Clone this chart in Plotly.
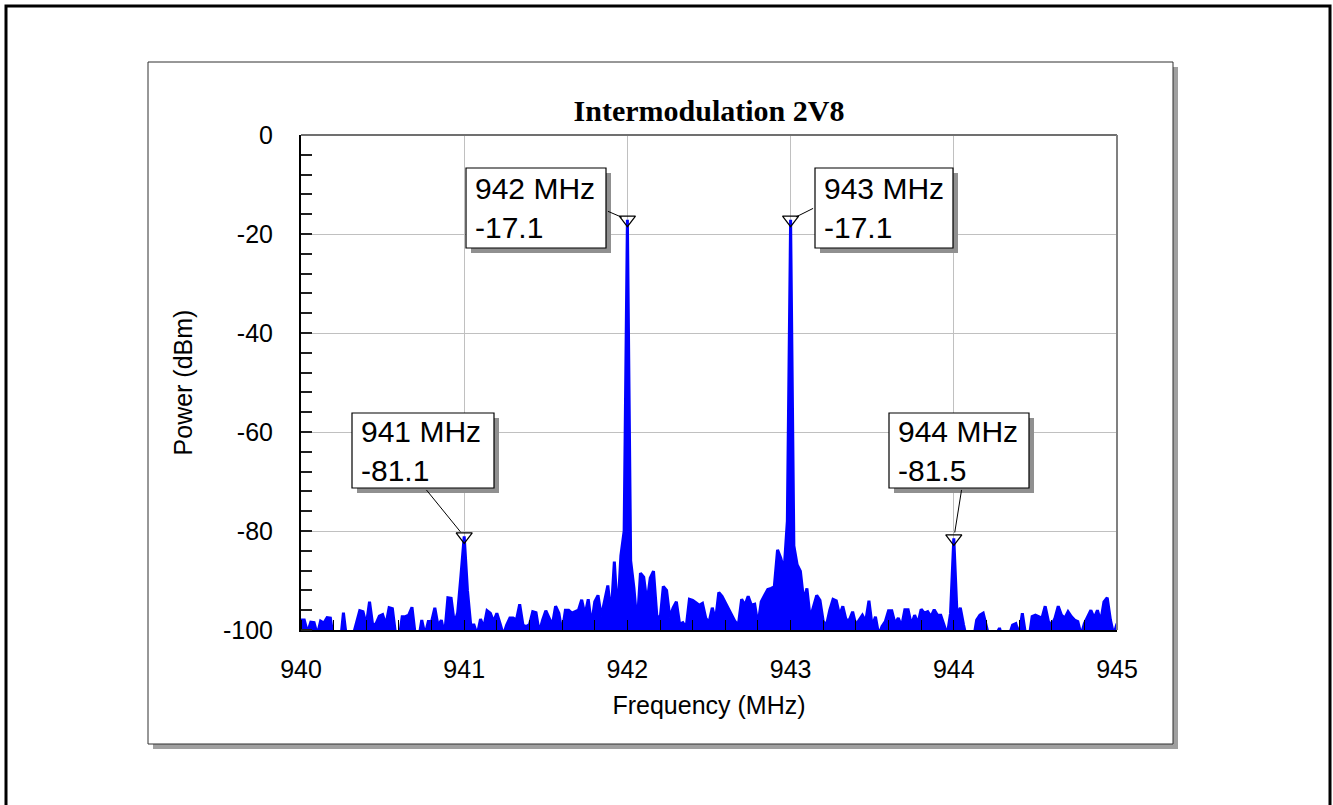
import plotly.graph_objects as go

# ---------------- data ----------------
freq_start = 940.0
freq_step = 0.02
power_dbm = [
    -98.0, -98.0, -100.5, -98.4, -98.5, -101, -98.2, -98.6, -97.5, -97.6,
    -102, -101, -103, -96.5, -102, -103, -101, -98.3, -96.1, -96.3,
    -99, -94.3, -99.2, -98.7, -97.2, -96.9, -99, -95.5, -95.7, -101,
    -102, -97.3, -97.3, -97.0, -95.4, -101, -102, -98.0, -101, -98.3,
    -98.3, -95.5, -99.2, -98.0, -101, -93.5, -93.6, -98.7, -96.5, -89,
    -81.1, -92, -99, -99.0, -101, -97.8, -99.5, -96.1, -96.6, -98.3,
    -96.6, -98.7, -101, -99, -97.6, -97.6, -98.0, -94.8, -99.0, -99.3,
    -98.9, -96.3, -96.5, -100.5, -98.0, -96.1, -97.5, -99, -95.2, -96.6,
    -100.5, -96.0, -96.0, -96.6, -96.3, -96.0, -93.9, -97.0, -93.8, -99.0,
    -94.3, -93.0, -97.3, -94.0, -91.0, -97.0, -86.2, -97.0, -85.0, -80,
    -17.1, -86, -91.5, -99, -88.5, -89.3, -94.5, -89.5, -88.1, -97,
    -98, -91.2, -92.0, -97.5, -95.5, -94.3, -98.8, -98.5, -99.5, -93.8,
    -94.0, -94.5, -95.0, -94.6, -97.6, -98.5, -95.5, -98.0, -92.4, -93.2,
    -94.5, -95.5, -97.0, -98.3, -99.0, -93.8, -95.0, -93.2, -95.0, -94.8,
    -99.0, -94.3, -93.0, -91.8, -91.6, -91.3, -83.8, -85.5, -88, -78,
    -17.1, -83, -86.8, -88.1, -94.0, -91.6, -97.6, -95.5, -93.0, -94.0,
    -98.3, -99.0, -96.0, -93.8, -94.1, -97.0, -95.2, -98.0, -98.0, -96.3,
    -99.0, -98.0, -97.0, -98.3, -94.1, -99.3, -97.3, -101, -99.3, -98.3,
    -96.1, -96.1, -98.7, -97.6, -99.3, -95.9, -95.9, -99, -97.0, -98.7,
    -95.8, -96.6, -96.3, -97.3, -95.9, -97.0, -97.0, -99.0, -101, -96.6,
    -81.5, -97, -95.5, -99.0, -102, -103, -102, -98.0, -97.0, -96.6,
    -99.0, -102, -103, -101, -99.6, -102, -103, -101, -99.0, -98.7,
    -101, -96.6, -101, -102, -97.3, -97.0, -97.3, -97.6, -95.2, -98.3,
    -99.0, -97.6, -95.2, -97.0, -97.6, -96.3, -97.3, -98.0, -98.3, -101,
    -98.7, -97.3, -96.0, -97.6, -96.0, -98.3, -94.3, -93.5, -98.0, -101,
    -98.7,
]
freq_mhz = [round(freq_start + freq_step * i, 2) for i in range(len(power_dbm))]

marker_freq = [941, 942, 943, 944]
marker_power = [-81.1, -17.1, -17.1, -81.5]

x_range = [940, 945]
y_range = [-100, 0]
x_ticks = [940, 941, 942, 943, 944, 945]
y_ticks = [0, -20, -40, -60, -80, -100]
y_ticktext = ["0", "-20", "-40", "-60", "-80", "-100"]

title_text = "Intermodulation 2V8"
x_title = "Frequency (MHz)"
y_title = "Power (dBm)"

# ---------------- layout geometry (pixels) ----------------
W, H = 1333, 805
PL, PR, PT, PB = 301, 1117, 135, 630


def px(x):
    return (x - PL) / (PR - PL)


def py(y):
    return (PB - y) / (PB - PT)


# label boxes: (left, top, right, bottom) in pixels, one per marker
label_boxes = [(352, 413, 494, 488), (466, 168, 606, 248),
               (815, 168, 953, 248), (889, 413, 1029, 488)]
# connector tail offsets (pixels) from the marked point
arrow_tails = [(-39, -48), (-21, -9), (24, -12), (8, -50)]

BLUE = "#0000ff"

fig = go.Figure()
# floor of the display (axis bottom) used as the fill reference
fig.add_trace(go.Scatter(
    x=x_range, y=[y_range[0], y_range[0]], mode="lines",
    line=dict(width=0, color=BLUE), hoverinfo="skip", showlegend=False,
))
fig.add_trace(go.Scatter(
    x=freq_mhz, y=power_dbm, mode="lines", fill="tonexty", fillcolor=BLUE,
    line=dict(color=BLUE, width=3), hoverinfo="skip", showlegend=False,
))
fig.add_trace(go.Scatter(
    x=marker_freq, y=marker_power, mode="markers",
    marker=dict(symbol="triangle-down-open", size=14, color="black",
                line=dict(width=1.2, color="black")),
    showlegend=False,
))

shapes = []
# outer frame
shapes.append(dict(type="rect", xref="paper", yref="paper",
                   x0=px(6), x1=px(1330), y0=py(6), y1=py(830),
                   line=dict(color="black", width=3), fillcolor="rgba(0,0,0,0)",
                   layer="below"))
# panel shadow + panel
shapes.append(dict(type="rect", xref="paper", yref="paper",
                   x0=px(153), x1=px(1178), y0=py(67), y1=py(749),
                   line=dict(width=0), fillcolor="#a0a0a0", layer="below"))
shapes.append(dict(type="rect", xref="paper", yref="paper",
                   x0=px(148), x1=px(1173), y0=py(62), y1=py(744),
                   line=dict(color="#303030", width=1), fillcolor="white",
                   layer="below"))
# top & right plot borders (gray)
shapes.append(dict(type="line", xref="paper", yref="paper", x0=0, x1=1, y0=1, y1=1,
                   line=dict(color="#707070", width=2), layer="above"))
shapes.append(dict(type="line", xref="paper", yref="paper", x0=1, x1=1, y0=0, y1=1,
                   line=dict(color="#808080", width=2), layer="above"))

annotations = []
for (l, t, r, b), f, p, (ax, ay) in zip(label_boxes, marker_freq, marker_power, arrow_tails):
    shapes.append(dict(type="rect", xref="paper", yref="paper",
                       x0=px(l + 5), x1=px(r + 5), y0=py(t + 5), y1=py(b + 5),
                       line=dict(width=0), fillcolor="#909090", layer="above"))
    shapes.append(dict(type="rect", xref="paper", yref="paper",
                       x0=px(l), x1=px(r), y0=py(t), y1=py(b),
                       line=dict(color="black", width=1.2), fillcolor="white",
                       layer="above"))
    annotations.append(dict(
        xref="paper", yref="paper", x=px(l + 7), y=py((t + b) / 2),
        xanchor="left", yanchor="middle", align="left", showarrow=False,
        text=f"{f} MHz<br>{p}",
        font=dict(family="Liberation Sans, Arial", size=30, color="black"),
    ))
    annotations.append(dict(
        x=f, y=p, xref="x", yref="y", ax=ax, ay=ay, text="",
        showarrow=True, arrowhead=0, arrowwidth=1, arrowcolor="black",
        standoff=6,
    ))

axis_font = dict(family="Liberation Sans, Arial", size=25, color="black")

fig.update_layout(
    width=W, height=H,
    margin=dict(l=PL, r=W - PR, t=PT, b=H - PB, pad=0),
    paper_bgcolor="white", plot_bgcolor="white",
    title=dict(text=f"<b>{title_text}</b>", x=0.5, xref="paper", xanchor="center",
               y=1 - 110 / H, yanchor="middle",
               font=dict(family="Liberation Serif, Times New Roman", size=30,
                         color="black")),
    xaxis=dict(range=x_range, tickvals=x_ticks, ticks="", showgrid=True,
               gridcolor="#c0c0c0", gridwidth=1, zeroline=False,
               showline=True, linecolor="black", linewidth=2,
               tickfont=axis_font, ticklabelstandoff=16,
               title=dict(text=x_title, font=axis_font, standoff=14),
               minor=dict(dtick=0.2, ticks="inside", ticklen=10, tickwidth=1.2,
                          tickcolor="black", showgrid=False)),
    yaxis=dict(range=y_range, tickvals=y_ticks, ticktext=y_ticktext, ticks="",
               showgrid=True, gridcolor="#c0c0c0", gridwidth=1, zeroline=False,
               showline=True, linecolor="black", linewidth=2,
               tickfont=axis_font, ticklabelstandoff=21,
               title=dict(text=y_title, font=axis_font, standoff=23),
               minor=dict(dtick=4, ticks="inside", ticklen=11, tickwidth=1.5,
                          tickcolor="#202020", showgrid=False)),
    shapes=shapes,
    annotations=annotations,
    showlegend=False,
)

fig.write_html("out.html")
